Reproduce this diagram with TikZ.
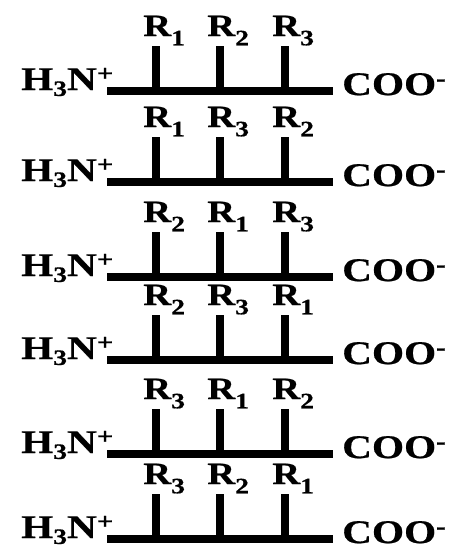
\documentclass[tikz,border=0pt]{standalone}
\usepackage{fontspec}
\setmainfont{Liberation Serif}[FakeStretch=1.25, FakeBold=0.6]
\usepackage{tikz}
\tikzset{
  bond/.style={line width=7.5pt, line cap=butt, draw=black},
  group/.style={inner sep=0pt, font=\fontsize{33}{33}\selectfont\bfseries, anchor=base west},
  side/.style={inner sep=0pt, font=\fontsize{31}{31}\selectfont\bfseries, anchor=base west}
}
\newcommand{\lowidx}[2][0.3em]{\raisebox{-#1}{\fontsize{22}{22}\selectfont #2}}
\newcommand{\Rlab}[1]{R\lowidx{#1}}

\begin{document}
\begin{tikzpicture}[x=1pt, y=-1pt]
\useasboundingbox (0,0) rectangle (454,552);
% one row per order of the side chains: row / backbone y / R at first, second, third position
\foreach \r/\y/\a/\b/\c in {1/91/1/2/3, 2/182/1/3/2, 3/277/2/1/3, 4/360/2/3/1, 5/454/3/1/2, 6/539/3/2/1} {
  \coordinate (n\r) at (107,\y);
  \coordinate (c\r) at (333,\y);
  \draw[bond] (n\r) -- (c\r);
  \node[group] (amino\r) at (21,\y-1) {H\lowidx[0.18em]{3}N\textsuperscript{+}};
  \node[group] (carb\r) at (342,\y+4) {COO\textsuperscript{-}};
  \foreach \k/\x/\s in {1/156/\a, 2/220/\b, 3/285/\c} {
    \coordinate (b\r\k) at (\x,\y);
    \coordinate (t\r\k) at (\x,\y-45);
    \draw[bond] (b\r\k) -- (t\r\k);
    \node[side] (r\r\k) at (\x-13,\y-55) {\Rlab{\s}};
  }
}
\end{tikzpicture}
\end{document}
